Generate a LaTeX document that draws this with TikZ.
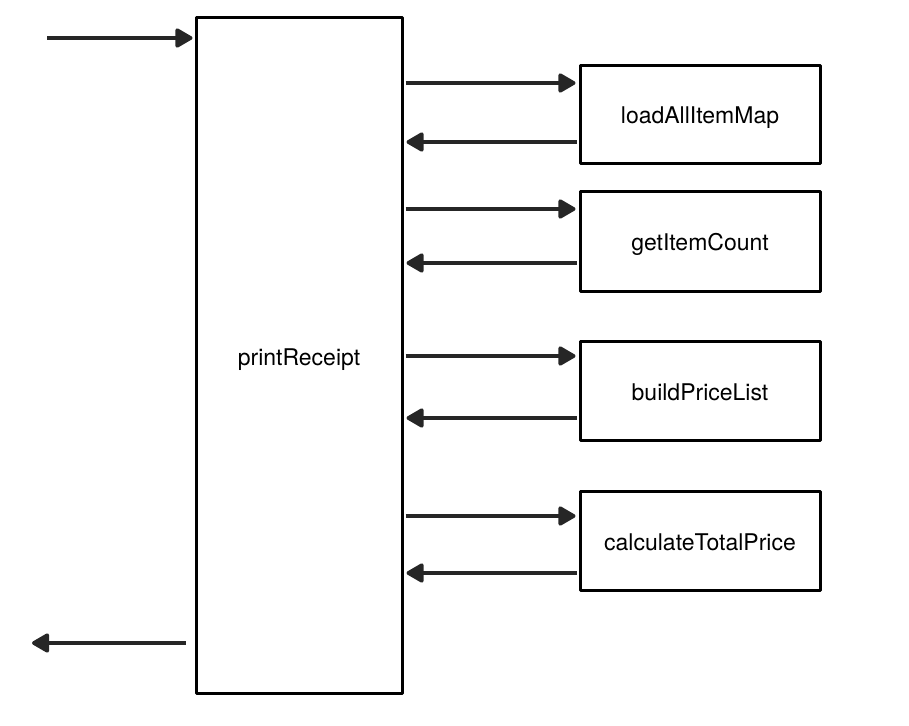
\documentclass[tikz,border=0pt]{standalone}
\usepackage{fontspec}
\setmainfont{TeX Gyre Heros}
\usetikzlibrary{arrows.meta}
\begin{document}
\begin{tikzpicture}[x=1pt,y=-1pt,
  box/.style={draw=black, line width=3pt, line join=round, fill=white, inner sep=0pt, text height=24pt, text depth=5pt, font=\fontsize{23}{27}\selectfont},
  conn/.style={draw=black!85, line width=3.6pt, -{Triangle[length=19pt,width=21pt,round]}}]
\useasboundingbox (0,0) rectangle (909,725);
\node[box, minimum width=206pt, minimum height=675pt] (main) at (299,355.5) {printReceipt};
\node[box, minimum width=240pt, minimum height=98pt] (b1) at (700,114) {loadAllItemMap};
\node[box, minimum width=240pt, minimum height=100pt] (b2) at (700,241) {getItemCount};
\node[box, minimum width=240pt, minimum height=99pt] (b3) at (700,390.5) {buildPriceList};
\node[box, minimum width=240pt, minimum height=99pt] (b4) at (700,540.5) {calculateTotalPrice};
\coordinate (in) at (47,38);
\coordinate (out) at (32,643);
\draw[conn] (in) -- ([xshift=-2pt]main.west |- in);
\draw[conn] ([xshift=-9pt]main.west |- out) -- (out);
\foreach \b/\ya/\yb in {b1/83/142, b2/209/263, b3/356/418, b4/516/573}{
  \draw[conn] ([xshift=2pt]main.east |- 0,\ya) -- ([xshift=-3pt]\b.west |- 0,\ya);
  \draw[conn] ([xshift=-2pt]\b.west |- 0,\yb) -- ([xshift=3pt]main.east |- 0,\yb);
}
\end{tikzpicture}
\end{document}
